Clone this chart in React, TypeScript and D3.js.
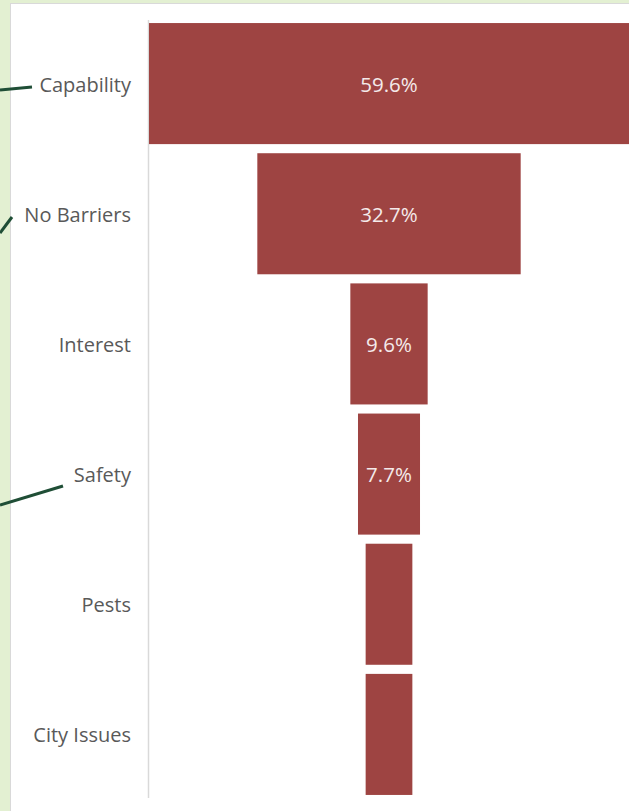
import React from "react";
import * as d3 from "d3";

const categories = ["Capability", "No Barriers", "Interest", "Safety", "Pests", "City Issues"];
const values = [59.6, 32.7, 9.6, 7.7, 5.8, 5.8];
const valueLabels = ["59.6%", "32.7%", "9.6%", "7.7%", "", ""];

const W = 629;
const H = 811;

export default function App() {
  const centerX = 389;
  const x = d3.scaleLinear().domain([0, d3.max(values) as number]).range([0, 480]);
  const y = d3
    .scaleBand<string>()
    .domain(categories)
    .range([18.5, 799.5])
    .paddingInner(0.07)
    .paddingOuter(0.035);

  return (
    <svg
      width={W}
      height={H}
      style={{ position: "absolute", left: 0, top: 0 }}
      fontFamily="'Open Sans', sans-serif"
    >
      <rect x={0} y={0} width={W} height={H} fill="#e3f0d2" />
      <rect x={10.5} y={3.5} width={W} height={H} fill="#ffffff" stroke="#d9d9d9" strokeWidth={1} />
      {/* callout lines */}
      <line x1={0} y1={90} x2={32} y2={87} stroke="#1f4e36" strokeWidth={3} />
      <line x1={0} y1={233} x2={12} y2={217} stroke="#1f4e36" strokeWidth={3} />
      <line x1={0} y1={505} x2={63} y2={486} stroke="#1f4e36" strokeWidth={3} />
      {/* axis line */}
      <line x1={148.5} y1={20} x2={148.5} y2={798} stroke="#d9d9d9" strokeWidth={1.5} />
      {categories.map((c, i) => {
        const w = x(values[i]);
        const by = y(c) as number;
        const bh = y.bandwidth();
        return (
          <g key={c}>
            <rect x={centerX - w / 2} y={by} width={w} height={bh} fill="#9e4442" />
            {valueLabels[i] && (
              <text
                x={centerX}
                y={by + bh / 2 + 1}
                dy="0.35em"
                textAnchor="middle"
                fill="#f4eaea"
                fontSize={20.5}
              >
                {valueLabels[i]}
              </text>
            )}
            <text
              x={131}
              y={by + bh / 2 + 1}
              dy="0.35em"
              textAnchor="end"
              fill="#595959"
              fontSize={20}
            >
              {c}
            </text>
          </g>
        );
      })}
    </svg>
  );
}
